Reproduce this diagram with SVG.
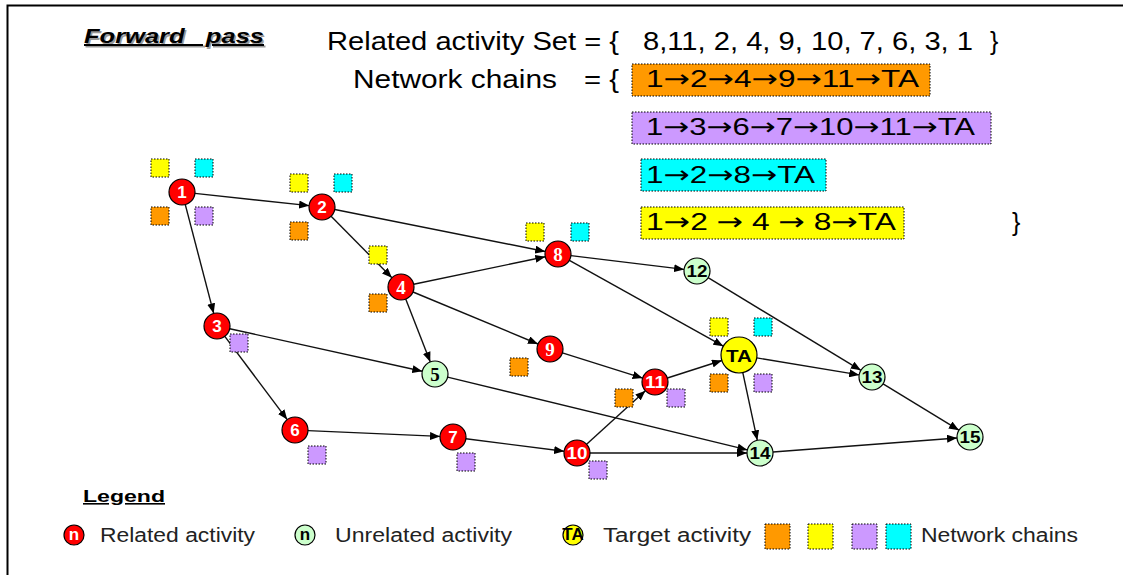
<svg xmlns="http://www.w3.org/2000/svg" width="1123" height="575" viewBox="0 0 1123 575">
<style>
text{font-family:"Liberation Sans",Arial,sans-serif;fill:#000}
.hdr{font-size:25px}
.ch{font-size:24px}
.ar{font-family:"DejaVu Sans",sans-serif;font-weight:normal}
.edge{stroke:#111;stroke-width:1.4;fill:none;marker-end:url(#ah)}
.red{fill:#FF0000;stroke:#000;stroke-width:1.2}
.grn{fill:#CCFFCC;stroke:#000;stroke-width:1.2}
.ta{fill:#FFFF00;stroke:#000;stroke-width:1.2}
.lw{fill:#fff;font-weight:bold;font-size:17px;text-anchor:middle}
.lb{fill:#000;font-weight:bold;font-size:17px;text-anchor:middle}
.serif{font-family:"Liberation Serif","Times New Roman",serif;font-size:19px}
.sq{stroke:#000;stroke-width:1;stroke-dasharray:1.5 1.5}
.o{fill:#FF9900}.y{fill:#FFFF00}.p{fill:#CC99FF}.c{fill:#00FFFF}
.leg{font-size:20px;fill:#222}
</style>
<defs>
<marker id="ah" markerWidth="10" markerHeight="8" refX="10" refY="4" orient="auto" markerUnits="userSpaceOnUse">
<path d="M0,0 L10,4 L0,8 z" fill="#000"/>
</marker>
</defs>
<rect x="0" y="0" width="1123" height="575" fill="#fff"/>
<path d="M7.5,575 V5.5 H1123" stroke="#000" stroke-width="2" fill="none"/>

<g id="header">
<text x="85.5" y="44.5" font-size="20" font-weight="bold" font-style="italic" text-decoration="underline" style="fill:#999;white-space:pre" xml:space="preserve" textLength="180" lengthAdjust="spacingAndGlyphs">Forward   pass</text>
<text x="84" y="43" font-size="20" font-weight="bold" font-style="italic" text-decoration="underline" style="white-space:pre" xml:space="preserve" textLength="180" lengthAdjust="spacingAndGlyphs">Forward   pass</text>
<text class="hdr" x="327" y="50" textLength="292" lengthAdjust="spacingAndGlyphs">Related activity Set = {</text>
<text class="hdr" x="643" y="50" textLength="330" lengthAdjust="spacingAndGlyphs">8,11, 2, 4, 9, 10, 7, 6, 3, 1</text>
<text class="hdr" x="990" y="50">}</text>
<text class="hdr" x="353" y="88" textLength="204" lengthAdjust="spacingAndGlyphs">Network chains</text>
<text class="hdr" x="584" y="88" textLength="35" lengthAdjust="spacingAndGlyphs">= {</text>
<text class="hdr" x="1012" y="231">}</text>
</g>

<g id="chains">
<rect class="sq o" x="632" y="64" width="298" height="32"/>
<text class="ch" x="646" y="87" textLength="273" lengthAdjust="spacingAndGlyphs">1<tspan class="ar">→</tspan>2<tspan class="ar">→</tspan>4<tspan class="ar">→</tspan>9<tspan class="ar">→</tspan>11<tspan class="ar">→</tspan>TA</text>
<rect class="sq p" x="632" y="112" width="359" height="32"/>
<text class="ch" x="646" y="135" textLength="329" lengthAdjust="spacingAndGlyphs">1<tspan class="ar">→</tspan>3<tspan class="ar">→</tspan>6<tspan class="ar">→</tspan>7<tspan class="ar">→</tspan>10<tspan class="ar">→</tspan>11<tspan class="ar">→</tspan>TA</text>
<rect class="sq c" x="641" y="159" width="185" height="32"/>
<text class="ch" x="646" y="183" textLength="169" lengthAdjust="spacingAndGlyphs">1<tspan class="ar">→</tspan>2<tspan class="ar">→</tspan>8<tspan class="ar">→</tspan>TA</text>
<rect class="sq y" x="641" y="207" width="263" height="32"/>
<text class="ch" x="646" y="230" textLength="250" lengthAdjust="spacingAndGlyphs" style="white-space:pre" xml:space="preserve">1<tspan class="ar">→</tspan>2 <tspan class="ar">→</tspan> 4 <tspan class="ar">→</tspan> 8<tspan class="ar">→</tspan>TA</text>
</g>

<g id="connectors">
<line class="edge" x1="194.9" y1="193.4" x2="309.1" y2="205.6"/>
<line class="edge" x1="185.3" y1="204.6" x2="213.7" y2="313.4"/>
<line class="edge" x1="331.1" y1="216.3" x2="391.9" y2="277.7"/>
<line class="edge" x1="334.8" y1="209.5" x2="545.2" y2="251.5"/>
<line class="edge" x1="229.7" y1="328.8" x2="422.3" y2="371.2"/>
<line class="edge" x1="224.8" y1="336.4" x2="287.2" y2="419.6"/>
<line class="edge" x1="413.7" y1="284.3" x2="545.3" y2="256.7"/>
<line class="edge" x1="405.7" y1="299.1" x2="430.3" y2="361.9"/>
<line class="edge" x1="413.0" y1="292.0" x2="538.0" y2="344.0"/>
<line class="edge" x1="447.6" y1="377.1" x2="747.4" y2="449.9"/>
<line class="edge" x1="308" y1="430.6" x2="440" y2="436.4"/>
<line class="edge" x1="465.9" y1="438.7" x2="564.1" y2="451.3"/>
<line class="edge" x1="570.9" y1="255.6" x2="684.1" y2="269.4"/>
<line class="edge" x1="569.4" y1="260.3" x2="723.3" y2="346.2"/>
<line class="edge" x1="562.4" y1="352.9" x2="642.6" y2="378.1"/>
<line class="edge" x1="586.6" y1="444.3" x2="645.4" y2="390.7"/>
<line class="edge" x1="590" y1="453" x2="747" y2="453"/>
<line class="edge" x1="667.4" y1="378.0" x2="721.9" y2="360.5"/>
<line class="edge" x1="708.1" y1="277.7" x2="860.9" y2="370.3"/>
<line class="edge" x1="756.8" y1="357.9" x2="859.2" y2="374.9"/>
<line class="edge" x1="742.8" y1="372.6" x2="757.3" y2="440.3"/>
<line class="edge" x1="883.1" y1="383.8" x2="958.9" y2="430.2"/>
<line class="edge" x1="773" y1="452" x2="957" y2="438"/>
</g>

<g id="chain-tags">
<rect class="sq y" x="151" y="159" width="18" height="18"/>
<rect class="sq c" x="195" y="159" width="18" height="18"/>
<rect class="sq o" x="151" y="207" width="18" height="18"/>
<rect class="sq p" x="195" y="207" width="18" height="18"/>
<rect class="sq y" x="290" y="174" width="18" height="18"/>
<rect class="sq c" x="334" y="174" width="18" height="18"/>
<rect class="sq o" x="290" y="222" width="18" height="18"/>
<rect class="sq y" x="369" y="246" width="18" height="18"/>
<rect class="sq o" x="369" y="294" width="18" height="18"/>
<rect class="sq p" x="230" y="334" width="18" height="18"/>
<rect class="sq y" x="526" y="223" width="18" height="18"/>
<rect class="sq c" x="571" y="223" width="18" height="18"/>
<rect class="sq o" x="510" y="358" width="18" height="18"/>
<rect class="sq o" x="615" y="389" width="18" height="18"/>
<rect class="sq p" x="667" y="389" width="18" height="18"/>
<rect class="sq y" x="710" y="318" width="18" height="18"/>
<rect class="sq c" x="754" y="318" width="18" height="18"/>
<rect class="sq o" x="710" y="374" width="18" height="18"/>
<rect class="sq p" x="754" y="374" width="18" height="18"/>
<rect class="sq p" x="308" y="446" width="18" height="18"/>
<rect class="sq p" x="457" y="453" width="18" height="18"/>
<rect class="sq p" x="589" y="461" width="18" height="18"/>
</g>

<g id="n1"><circle class="red" cx="182" cy="192" r="13"/><text class="lw" x="182" y="198">1</text></g>
<g id="n2"><circle class="red" cx="322" cy="207" r="13"/><text class="lw" x="322" y="213">2</text></g>
<g id="n3"><circle class="red" cx="217" cy="326" r="13"/><text class="lw" x="217" y="332">3</text></g>
<g id="n4"><circle class="red" cx="401" cy="287" r="13"/><text class="lw serif" x="401" y="294">4</text></g>
<g id="n5"><circle class="grn" cx="435" cy="374" r="13"/><text class="lb serif" x="435" y="381">5</text></g>
<g id="n6"><circle class="red" cx="295" cy="430" r="13"/><text class="lw" x="295" y="436">6</text></g>
<g id="n7"><circle class="red" cx="453" cy="437" r="13"/><text class="lw" x="453" y="443">7</text></g>
<g id="n8"><circle class="red" cx="558" cy="254" r="13"/><text class="lw serif" x="558" y="261">8</text></g>
<g id="n9"><circle class="red" cx="550" cy="349" r="13"/><text class="lw serif" x="550" y="356">9</text></g>
<g id="n10"><circle class="red" cx="577" cy="453" r="13"/><text class="lw" x="577" y="459" textLength="21" lengthAdjust="spacingAndGlyphs">10</text></g>
<g id="n11"><circle class="red" cx="655" cy="382" r="13"/><text class="lw" x="655" y="388" textLength="20" lengthAdjust="spacingAndGlyphs">11</text></g>
<g id="n12"><circle class="grn" cx="697" cy="271" r="13"/><text class="lb" x="697" y="277" textLength="21" lengthAdjust="spacingAndGlyphs">12</text></g>
<g id="nTA"><circle class="ta" cx="739" cy="355" r="18"/><text class="lb" x="739" y="362" font-size="19" textLength="26" lengthAdjust="spacingAndGlyphs">TA</text></g>
<g id="n13"><circle class="grn" cx="872" cy="377" r="13"/><text class="lb" x="872" y="383" textLength="21" lengthAdjust="spacingAndGlyphs">13</text></g>
<g id="n14"><circle class="grn" cx="760" cy="453" r="13"/><text class="lb" x="760" y="459" textLength="21" lengthAdjust="spacingAndGlyphs">14</text></g>
<g id="n15"><circle class="grn" cx="970" cy="437" r="13"/><text class="lb" x="970" y="443" textLength="21" lengthAdjust="spacingAndGlyphs">15</text></g>

<g id="legend">
<text x="83" y="502" font-size="16" font-weight="bold" text-decoration="underline" textLength="82" lengthAdjust="spacingAndGlyphs">Legend</text>
<circle class="red" cx="74" cy="535" r="10"/><text class="lw" x="74" y="540" font-size="13">n</text>
<text class="leg" x="100" y="542" textLength="155" lengthAdjust="spacingAndGlyphs">Related activity</text>
<circle class="grn" cx="305" cy="535" r="10"/><text class="lb" x="305" y="540" font-size="13">n</text>
<text class="leg" x="335" y="542" textLength="177" lengthAdjust="spacingAndGlyphs">Unrelated activity</text>
<circle class="ta" cx="573" cy="535" r="10"/><text class="lb" x="573" y="540" font-size="12">TA</text>
<text class="leg" x="603" y="542" textLength="148" lengthAdjust="spacingAndGlyphs">Target activity</text>
<rect class="sq o" x="765" y="524" width="25" height="25"/>
<rect class="sq y" x="808" y="524" width="25" height="25"/>
<rect class="sq p" x="852" y="524" width="25" height="25"/>
<rect class="sq c" x="886" y="524" width="25" height="25"/>
<text class="leg" x="921" y="542" textLength="157" lengthAdjust="spacingAndGlyphs">Network chains</text>
</g>
</svg>
